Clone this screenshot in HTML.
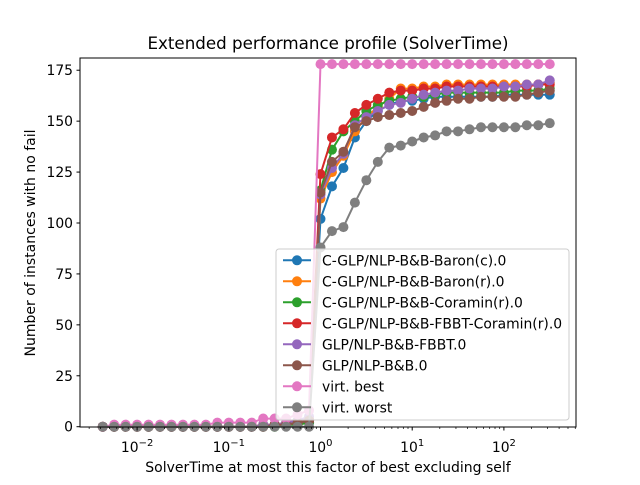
<!DOCTYPE html>
<html><head><meta charset="utf-8"><style>
body{margin:0;background:#fff}
svg text{font-family:"DejaVu Sans","Liberation Sans",sans-serif;fill:#000}
</style></head><body>
<svg id="chart" width="640" height="480" xmlns="http://www.w3.org/2000/svg">
<rect width="640" height="480" fill="#fff"/>
<text x="328" y="49" font-size="16.7" text-anchor="middle">Extended performance profile (SolverTime)</text>
<g id="plot"></g>
<g id="axes"></g>
<g id="legend"></g>
<text x="328" y="472" font-size="14" text-anchor="middle">SolverTime at most this factor of best excluding self</text>
<text transform="translate(35,243) rotate(-90)" font-size="14" text-anchor="middle">Number of instances with no fail</text>
</svg>
<script>
const seriesNames = ["C-GLP/NLP-B&B-Baron(c).0","C-GLP/NLP-B&B-Baron(r).0","C-GLP/NLP-B&B-Coramin(r).0","C-GLP/NLP-B&B-FBBT-Coramin(r).0","GLP/NLP-B&B-FBBT.0","GLP/NLP-B&B.0","virt. best","virt. worst"];
const colors = ["#1f77b4","#ff7f0e","#2ca02c","#d62728","#9467bd","#8c564b","#e377c2","#7f7f7f"];
const logSteps = [-19,-18,-17,-16,-15,-14,-13,-12,-11,-10,-9,-8,-7,-6,-5,-4,-3,-2,-1,0,1,2,3,4,5,6,7,8,9,10,11,12,13,14,15,16,17,18,19,20];
const sBaronC = [0,0,0,0,0,0,0,0,0,0,0,0,0,0,1,1,1,2,2, 102,118,127,142,150,155,158,160,160,161,162,162,162,162,162,162,163,163,163,163,163];
const sBaronR = [0,0,0,0,0,0,0,0,0,0,0,0,0,0,1,1,2,3,4, 112,125,133,145,152,157,161,166,166,167,167,168,168,168,168,168,168,168,168,168,169];
const sCoramin = [0,0,0,0,0,0,0,0,0,0,0,0,0,0,0,0,1,1,2, 116,136,145,150,155,158,160,161,162,162,163,164,164,164,164,164,164,165,165,165,166];
const sFbbtCoramin = [0,0,0,0,0,0,0,0,0,0,0,0,0,0,0,1,1,2,3, 124,142,146,154,158,161,164,165,165,166,166,167,167,167,167,167,167,167,167,168,168];
const sFbbt = [0,0,0,0,0,0,0,0,0,0,0,0,0,0,1,1,2,3,5, 114,127,134,148,152,155,158,159,161,163,164,165,165,166,166,166,167,167,168,168,170];
const sGlp = [0,0,0,0,0,0,0,0,0,0,0,0,0,0,0,1,1,2,3, 115,130,135,147,150,152,153,154,155,157,159,160,161,161,162,162,162,162,163,164,165];
const sBest = [0,1,1,1,1,1,1,1,1,1,2,2,2,2,4,4,4,6,8, 178,178,178,178,178,178,178,178,178,178,178,178,178,178,178,178,178,178,178,178,178];
const sWorst = [0,0,0,0,0,0,0,0,0,0,0,0,0,0,0,0,0,0,0, 88,96,98,110,121,130,137,138,140,142,143,145,145,146,147,147,147,147,148,148,149];
const series = [sBaronC,sBaronR,sCoramin,sFbbtCoramin,sFbbt,sGlp,sBest,sWorst];
const yTicks = [0,25,50,75,100,125,150,175];
const xDecades = [-2,-1,0,1,2];

const NS="http://www.w3.org/2000/svg";
const L=80,R=576,T=58,B=427;
function xs(logv){return 320.5+logv*91.7;}
function ys(v){return 426.7-v*2.037;}
function mk(tag,attrs,parent){const e=document.createElementNS(NS,tag);for(const k in attrs)e.setAttribute(k,attrs[k]);parent.appendChild(e);return e;}
const plot=document.getElementById('plot'),axes=document.getElementById('axes'),leg=document.getElementById('legend');

series.forEach((s,i)=>{
  const g=mk('g',{},plot);
  
  
  const pts=s.map((v,j)=>xs(logSteps[j]*0.125).toFixed(1)+','+ys(v).toFixed(1)).join(' ');
  const pl=mk('polyline',{points:pts,fill:'none',stroke:colors[i],'stroke-width':2},g);
  
  
  s.forEach((v,j)=>{
    const c=mk('circle',{cx:xs(logSteps[j]*0.125),cy:ys(v),r:5,fill:colors[i]},g);
    
    
  });
});

mk('rect',{x:L,y:T,width:R-L,height:B-T,fill:'none',stroke:'#000','stroke-width':1},axes);
yTicks.forEach(v=>{
  const y=ys(v);
  mk('line',{x1:L-3.5,x2:L,y1:y,y2:y,stroke:'#000'},axes);
  const t=mk('text',{x:L-7,y:y+5,'font-size':13.9,'text-anchor':'end'},axes);
  
  
  t.textContent=v;
});
for(let d=-3;d<=2;d++){
  for(let m=2;m<=9;m++){
    const x=xs(d+Math.log10(m));
    if(x>L&&x<R) mk('line',{x1:x,x2:x,y1:B,y2:B+2,stroke:'#000','stroke-width':0.7},axes);
  }
}
xDecades.forEach(d=>{
  const x=xs(d);
  mk('line',{x1:x,x2:x,y1:B,y2:B+3.5,stroke:'#000'},axes);
  const t=mk('text',{x:x,y:B+25,'font-size':13.9,'text-anchor':'middle'},axes);
  
  
  t.textContent='10';
  const sp=mk('tspan',{dy:-6,'font-size':10},t);
  sp.textContent=String(d).replace('-','\u2212');
});

mk('rect',{x:276,y:249,width:293,height:171,rx:3,fill:'#fff','fill-opacity':0.8,stroke:'#ccc'},leg);
seriesNames.forEach((n,i)=>{
  const y=260.3+i*21;
  const g=mk('g',{},leg);
  
  
  mk('line',{x1:283,x2:311,y1:y,y2:y,stroke:colors[i],'stroke-width':2},g);
  mk('circle',{cx:297,cy:y,r:5,fill:colors[i]},g);
  const t=mk('text',{x:322,y:y+5,'font-size':13.9},g);
  t.textContent=n;
});
</script>
</body></html>
